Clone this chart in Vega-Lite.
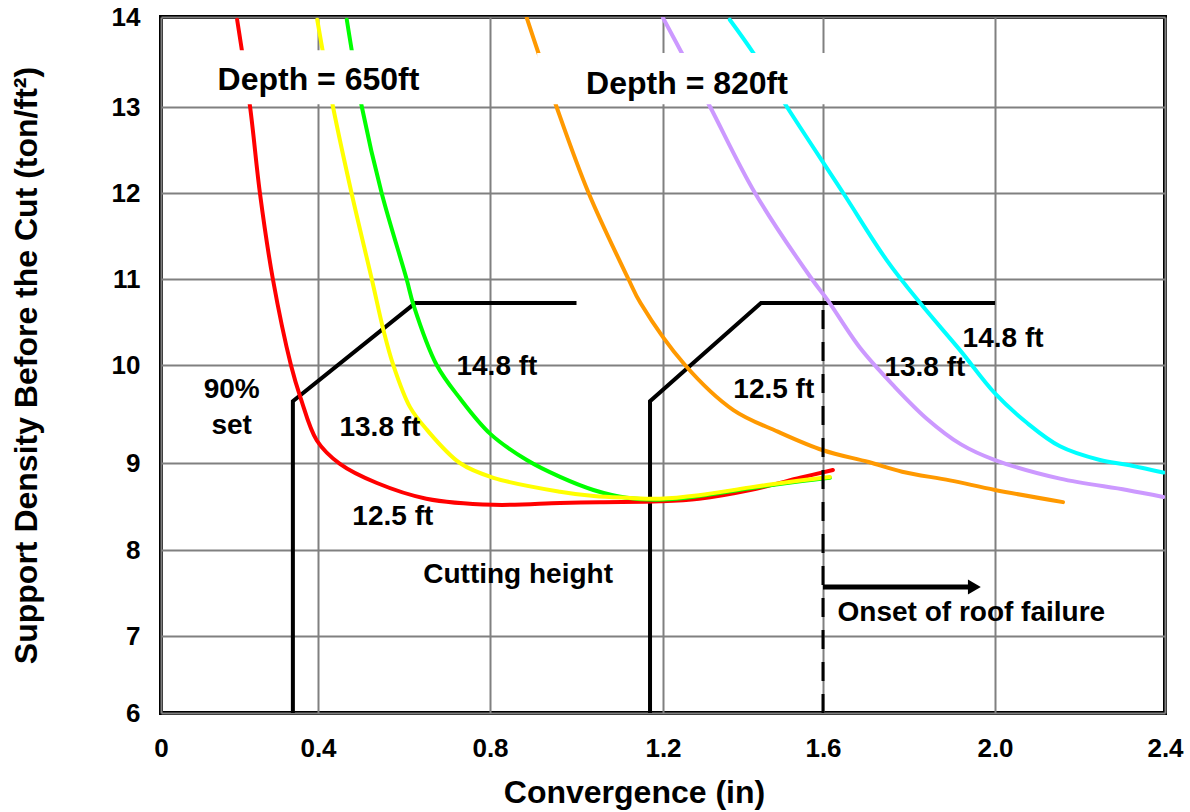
{
  "$schema": "https://vega.github.io/schema/vega-lite/v6.json",
  "width": 1004,
  "height": 696,
  "autosize": {"type": "none"},
  "padding": {"left": 161, "top": 17, "right": 25, "bottom": 99},
  "background": "white",
  "config": {
    "view": {"stroke": "black", "strokeWidth": 4},
    "font": "Liberation Sans",
    "axis": {
      "domain": false,
      "ticks": false,
      "grid": true,
      "gridColor": "#808080",
      "gridWidth": 2,
      "labelFont": "Liberation Sans",
      "labelFontWeight": "bold",
      "labelFontSize": 26,
      "labelColor": "black",
      "titleFont": "Liberation Sans",
      "titleFontWeight": "bold",
      "titleFontSize": 32,
      "titleColor": "black"
    }
  },
  "datasets": {
    "curves": [
      {"series": "650ft 12.5 ft", "x": 0.194, "y": 13.97},
      {"series": "650ft 12.5 ft", "x": 0.227, "y": 13.0},
      {"series": "650ft 12.5 ft", "x": 0.252, "y": 12.0},
      {"series": "650ft 12.5 ft", "x": 0.285, "y": 11.0},
      {"series": "650ft 12.5 ft", "x": 0.331, "y": 10.0},
      {"series": "650ft 12.5 ft", "x": 0.356, "y": 9.66},
      {"series": "650ft 12.5 ft", "x": 0.397, "y": 9.23},
      {"series": "650ft 12.5 ft", "x": 0.451, "y": 8.99},
      {"series": "650ft 12.5 ft", "x": 0.537, "y": 8.77},
      {"series": "650ft 12.5 ft", "x": 0.652, "y": 8.59},
      {"series": "650ft 12.5 ft", "x": 0.808, "y": 8.52},
      {"series": "650ft 12.5 ft", "x": 0.962, "y": 8.54},
      {"series": "650ft 12.5 ft", "x": 1.054, "y": 8.55},
      {"series": "650ft 12.5 ft", "x": 1.193, "y": 8.56},
      {"series": "650ft 12.5 ft", "x": 1.29, "y": 8.59},
      {"series": "650ft 12.5 ft", "x": 1.418, "y": 8.69},
      {"series": "650ft 12.5 ft", "x": 1.543, "y": 8.83},
      {"series": "650ft 12.5 ft", "x": 1.623, "y": 8.92},

      {"series": "650ft 14.8 ft", "x": 0.467, "y": 13.97},
      {"series": "650ft 14.8 ft", "x": 0.502, "y": 13.0},
      {"series": "650ft 14.8 ft", "x": 0.548, "y": 12.0},
      {"series": "650ft 14.8 ft", "x": 0.606, "y": 11.0},
      {"series": "650ft 14.8 ft", "x": 0.622, "y": 10.7},
      {"series": "650ft 14.8 ft", "x": 0.676, "y": 10.0},
      {"series": "650ft 14.8 ft", "x": 0.73, "y": 9.66},
      {"series": "650ft 14.8 ft", "x": 0.8, "y": 9.3},
      {"series": "650ft 14.8 ft", "x": 0.885, "y": 9.03},
      {"series": "650ft 14.8 ft", "x": 0.962, "y": 8.84},
      {"series": "650ft 14.8 ft", "x": 1.039, "y": 8.69},
      {"series": "650ft 14.8 ft", "x": 1.116, "y": 8.6},
      {"series": "650ft 14.8 ft", "x": 1.2, "y": 8.58},
      {"series": "650ft 14.8 ft", "x": 1.29, "y": 8.62},
      {"series": "650ft 14.8 ft", "x": 1.418, "y": 8.71},
      {"series": "650ft 14.8 ft", "x": 1.543, "y": 8.79},
      {"series": "650ft 14.8 ft", "x": 1.616, "y": 8.83},

      {"series": "650ft 13.8 ft", "x": 0.398, "y": 13.97},
      {"series": "650ft 13.8 ft", "x": 0.435, "y": 13.0},
      {"series": "650ft 13.8 ft", "x": 0.478, "y": 12.0},
      {"series": "650ft 13.8 ft", "x": 0.525, "y": 11.0},
      {"series": "650ft 13.8 ft", "x": 0.552, "y": 10.41},
      {"series": "650ft 13.8 ft", "x": 0.575, "y": 10.0},
      {"series": "650ft 13.8 ft", "x": 0.614, "y": 9.57},
      {"series": "650ft 13.8 ft", "x": 0.653, "y": 9.34},
      {"series": "650ft 13.8 ft", "x": 0.73, "y": 9.0},
      {"series": "650ft 13.8 ft", "x": 0.808, "y": 8.83},
      {"series": "650ft 13.8 ft", "x": 0.962, "y": 8.67},
      {"series": "650ft 13.8 ft", "x": 1.04, "y": 8.62},
      {"series": "650ft 13.8 ft", "x": 1.117, "y": 8.6},
      {"series": "650ft 13.8 ft", "x": 1.193, "y": 8.59},
      {"series": "650ft 13.8 ft", "x": 1.29, "y": 8.63},
      {"series": "650ft 13.8 ft", "x": 1.418, "y": 8.72},
      {"series": "650ft 13.8 ft", "x": 1.543, "y": 8.8},
      {"series": "650ft 13.8 ft", "x": 1.616, "y": 8.84},

      {"series": "820ft 12.5 ft", "x": 0.885, "y": 13.99},
      {"series": "820ft 12.5 ft", "x": 0.912, "y": 13.6},
      {"series": "820ft 12.5 ft", "x": 0.954, "y": 13.0},
      {"series": "820ft 12.5 ft", "x": 1.028, "y": 12.0},
      {"series": "820ft 12.5 ft", "x": 1.12, "y": 11.0},
      {"series": "820ft 12.5 ft", "x": 1.148, "y": 10.72},
      {"series": "820ft 12.5 ft", "x": 1.255, "y": 10.0},
      {"series": "820ft 12.5 ft", "x": 1.376, "y": 9.54},
      {"series": "820ft 12.5 ft", "x": 1.487, "y": 9.32},
      {"series": "820ft 12.5 ft", "x": 1.6, "y": 9.13},
      {"series": "820ft 12.5 ft", "x": 1.706, "y": 9.01},
      {"series": "820ft 12.5 ft", "x": 1.784, "y": 8.9},
      {"series": "820ft 12.5 ft", "x": 1.895, "y": 8.8},
      {"series": "820ft 12.5 ft", "x": 2.0, "y": 8.69},
      {"series": "820ft 12.5 ft", "x": 2.16, "y": 8.55},

      {"series": "820ft 13.8 ft", "x": 1.2, "y": 13.99},
      {"series": "820ft 13.8 ft", "x": 1.247, "y": 13.6},
      {"series": "820ft 13.8 ft", "x": 1.318, "y": 13.0},
      {"series": "820ft 13.8 ft", "x": 1.43, "y": 12.0},
      {"series": "820ft 13.8 ft", "x": 1.572, "y": 11.0},
      {"series": "820ft 13.8 ft", "x": 1.61, "y": 10.76},
      {"series": "820ft 13.8 ft", "x": 1.686, "y": 10.2},
      {"series": "820ft 13.8 ft", "x": 1.764, "y": 9.79},
      {"series": "820ft 13.8 ft", "x": 1.842, "y": 9.45},
      {"series": "820ft 13.8 ft", "x": 1.921, "y": 9.19},
      {"series": "820ft 13.8 ft", "x": 2.0, "y": 9.03},
      {"series": "820ft 13.8 ft", "x": 2.153, "y": 8.82},
      {"series": "820ft 13.8 ft", "x": 2.31, "y": 8.69},
      {"series": "820ft 13.8 ft", "x": 2.396, "y": 8.61},

      {"series": "820ft 14.8 ft", "x": 1.367, "y": 13.97},
      {"series": "820ft 14.8 ft", "x": 1.426, "y": 13.6},
      {"series": "820ft 14.8 ft", "x": 1.51, "y": 13.0},
      {"series": "820ft 14.8 ft", "x": 1.647, "y": 12.0},
      {"series": "820ft 14.8 ft", "x": 1.748, "y": 11.22},
      {"series": "820ft 14.8 ft", "x": 1.826, "y": 10.72},
      {"series": "820ft 14.8 ft", "x": 1.919, "y": 10.17},
      {"series": "820ft 14.8 ft", "x": 2.0, "y": 9.71},
      {"series": "820ft 14.8 ft", "x": 2.075, "y": 9.41},
      {"series": "820ft 14.8 ft", "x": 2.153, "y": 9.17},
      {"series": "820ft 14.8 ft", "x": 2.247, "y": 9.03},
      {"series": "820ft 14.8 ft", "x": 2.31, "y": 8.98},
      {"series": "820ft 14.8 ft", "x": 2.396, "y": 8.89}
    ],
    "envelopes": [
      {"group": "650ft", "i": 1, "x": 0.336, "y": 6.0},
      {"group": "650ft", "i": 2, "x": 0.336, "y": 9.63},
      {"group": "650ft", "i": 3, "x": 0.626, "y": 10.72},
      {"group": "650ft", "i": 4, "x": 1.0, "y": 10.72},
      {"group": "820ft", "i": 1, "x": 1.17, "y": 6.0},
      {"group": "820ft", "i": 2, "x": 1.17, "y": 9.63},
      {"group": "820ft", "i": 3, "x": 1.445, "y": 10.72},
      {"group": "820ft", "i": 4, "x": 2.0, "y": 10.72}
    ],
    "onset": [
      {"x": 1.6, "y": 6.0},
      {"x": 1.6, "y": 10.72}
    ],
    "arrow": [
      {"x": 1.6, "y": 7.57},
      {"x": 1.94, "y": 7.57}
    ],
    "arrowhead": [
      {"x": 1.952, "y": 7.57}
    ],
    "boxes": [
      {"x": 0.038, "x2": 0.735, "y": 13.03, "y2": 13.63},
      {"x": 0.909, "x2": 1.63, "y": 13.03, "y2": 13.6}
    ],
    "depthLabels": [
      {"label": "Depth = 650ft", "x": 0.401, "y": 13.3},
      {"label": "Depth = 820ft", "x": 1.26, "y": 13.26}
    ],
    "notes": [
      {"label": "90%", "x": 0.18, "y": 9.745},
      {"label": "set", "x": 0.18, "y": 9.38},
      {"label": "14.8 ft", "x": 0.816, "y": 9.98},
      {"label": "13.8 ft", "x": 0.544, "y": 9.36},
      {"label": "12.5 ft", "x": 0.574, "y": 8.38},
      {"label": "Cutting height", "x": 0.865, "y": 7.71},
      {"label": "12.5 ft", "x": 1.477, "y": 9.745},
      {"label": "13.8 ft", "x": 1.837, "y": 9.97},
      {"label": "14.8 ft", "x": 2.019, "y": 10.3},
      {"label": "Onset of roof failure", "x": 1.945, "y": 7.27}
    ]
  },
  "encoding": {
    "x": {
      "field": "x",
      "type": "quantitative",
      "scale": {
        "domain": [0, 0.4, 0.8, 1.2, 1.6, 2.0, 2.4],
        "range": [0, 157, 329, 502, 662, 834, 1004],
        "nice": false,
        "zero": false
      },
      "axis": {
        "values": [0, 0.4, 0.8, 1.2, 1.6, 2.0, 2.4],
        "labelExpr": "datum.value == 0 ? '0' : format(datum.value, '.1f')",
        "labelPadding": 22,
        "titlePadding": 16,
        "titleX": 473,
        "labelFlush": false
      },
      "title": "Convergence (in)"
    },
    "y": {
      "field": "y",
      "type": "quantitative",
      "scale": {
        "domain": [6, 7, 8, 9, 10, 11, 12, 13, 14],
        "range": [696, 619, 533, 446, 348, 262, 176, 90, 0],
        "nice": false,
        "zero": false
      },
      "axis": {
        "values": [6, 7, 8, 9, 10, 11, 12, 13, 14],
        "labelPadding": 21,
        "titlePadding": 68,
        "labelFlush": false
      },
      "title": "Support Density Before the Cut (ton/ft²)"
    }
  },
  "layer": [
    {
      "data": {"name": "envelopes"},
      "mark": {"type": "line", "color": "black", "strokeWidth": 4, "clip": true},
      "encoding": {
        "detail": {"field": "group", "type": "nominal"},
        "order": {"field": "i", "type": "quantitative"}
      }
    },
    {
      "data": {"name": "curves"},
      "mark": {"type": "line", "strokeWidth": 4, "interpolate": "catmull-rom", "clip": true, "strokeCap": "round"},
      "encoding": {
        "color": {
          "field": "series",
          "type": "nominal",
          "scale": {
            "domain": ["650ft 12.5 ft", "650ft 14.8 ft", "650ft 13.8 ft", "820ft 12.5 ft", "820ft 13.8 ft", "820ft 14.8 ft"],
            "range": ["#ff0000", "#00ff00", "#ffff00", "#ff9900", "#cc99ff", "#00ffff"]
          },
          "legend": null
        }
      }
    },
    {
      "data": {"name": "onset"},
      "mark": {"type": "line", "color": "black", "strokeWidth": 3, "strokeDash": [19, 13]},
      "encoding": {}
    },
    {
      "data": {"name": "arrow"},
      "mark": {"type": "line", "color": "black", "strokeWidth": 5},
      "encoding": {}
    },
    {
      "data": {"name": "arrowhead"},
      "mark": {"type": "point", "shape": "triangle-right", "filled": true, "color": "black", "size": 220, "opacity": 1},
      "encoding": {}
    },
    {
      "data": {"name": "boxes"},
      "mark": {"type": "rect", "fill": "white"},
      "encoding": {
        "x2": {"field": "x2"},
        "y2": {"field": "y2"}
      }
    },
    {
      "data": {"name": "depthLabels"},
      "mark": {"type": "text", "fontSize": 32, "fontWeight": "bold", "font": "Liberation Sans", "color": "black", "align": "center", "baseline": "middle"},
      "encoding": {"text": {"field": "label"}}
    },
    {
      "data": {"name": "notes"},
      "mark": {"type": "text", "fontSize": 28, "fontWeight": "bold", "font": "Liberation Sans", "color": "black", "align": "center", "baseline": "middle"},
      "encoding": {"text": {"field": "label"}}
    }
  ]
}
